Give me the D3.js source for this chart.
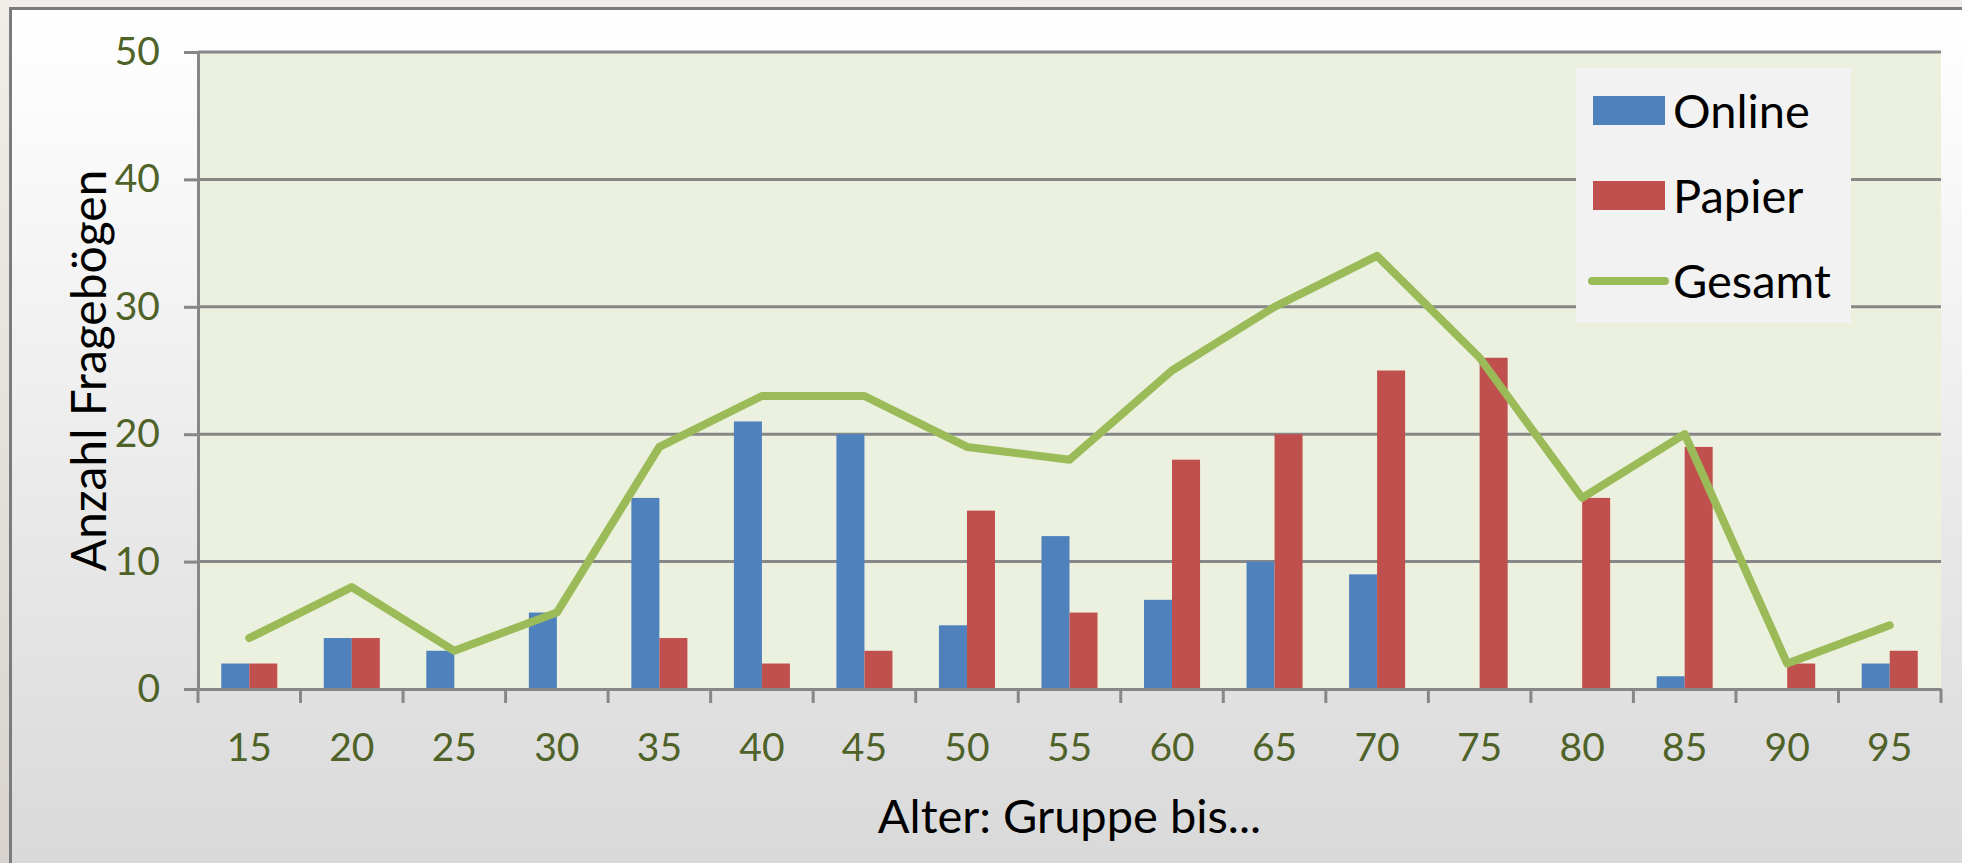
<!DOCTYPE html>
<html>
<head>
<meta charset="utf-8">
<script src="https://cdn.jsdelivr.net/npm/d3@7"></script>
<style>
  body { margin: 0; background: #efece8; }
  svg { display: block; font-family: Lato, "Noto Sans", sans-serif; }
</style>
</head>
<body>
<svg id="chart"></svg>
<script>
// age groups ("Gruppe bis ...")
var ages = ["15", "20", "25", "30", "35", "40", "45", "50", "55", "60", "65", "70", "75", "80", "85", "90", "95"];
var online = [2, 4, 3, 6, 15, 21, 20, 5, 12, 7, 10, 9, 0, 0, 1, 0, 2];
var papier = [2, 4, 0, 0, 4, 2, 3, 14, 6, 18, 20, 25, 26, 15, 19, 2, 3];
var gesamt = [4, 8, 3, 6, 19, 23, 23, 19, 18, 25, 30, 34, 26, 15, 20, 2, 5];
var yTicks = [0, 10, 20, 30, 40, 50];
var seriesNames = ["Online", "Papier", "Gesamt"];

var svgWidth = 1962;
var svgHeight = 863;

var plot = { left: 198, right: 1941, top: 52, bottom: 689 };

var svg = d3.select("#chart")
    .attr("width", svgWidth)
    .attr("height", svgHeight);

// background gradient of the chart frame
var defs = svg.append("defs");
var grad = defs.append("linearGradient")
    .attr("id", "frameGrad")
    .attr("x1", 0).attr("y1", 0).attr("x2", 0).attr("y2", 1);
grad.append("stop").attr("offset", "0%").attr("stop-color", "#ffffff");
grad.append("stop").attr("offset", "12%").attr("stop-color", "#fbfbfb");
grad.append("stop").attr("offset", "100%").attr("stop-color", "#d8d8d8");

var outer = defs.append("linearGradient")
    .attr("id", "outerGrad")
    .attr("x1", 0).attr("y1", 0).attr("x2", 0).attr("y2", 1);
outer.append("stop").attr("offset", "0%").attr("stop-color", "#f1eeea");
outer.append("stop").attr("offset", "100%").attr("stop-color", "#d8d3ce");

svg.append("rect")
    .attr("width", svgWidth)
    .attr("height", svgHeight)
    .attr("fill", "url(#outerGrad)");

svg.append("rect")
    .attr("x", 10.5)
    .attr("y", 8.5)
    .attr("width", svgWidth + 20)
    .attr("height", svgHeight + 20)
    .attr("fill", "url(#frameGrad)")
    .attr("stroke", "#7b7b7b")
    .attr("stroke-width", 3);

var x = d3.scaleBand()
    .domain(ages)
    .range([plot.left, plot.right])
    .paddingInner(0)
    .paddingOuter(0);

var xSub = d3.scaleBand()
    .domain(["Online", "Papier"])
    .range([0, x.bandwidth()])
    .paddingInner(0)
    .paddingOuter(0.83);

var y = d3.scaleLinear()
    .domain([0, 50])
    .range([plot.bottom, plot.top]);

var chartGroup = svg.append("g");

// plot area
chartGroup.append("rect")
    .attr("x", plot.left)
    .attr("y", plot.top)
    .attr("width", plot.right - plot.left)
    .attr("height", plot.bottom - plot.top)
    .attr("fill", "#ebf1de");

// gridlines
chartGroup.append("g")
    .selectAll("line")
    .data(yTicks.filter(d => d > 0))
    .enter()
    .append("line")
    .attr("x1", plot.left)
    .attr("x2", plot.right)
    .attr("y1", d => y(d))
    .attr("y2", d => y(d))
    .attr("stroke", "#878787")
    .attr("stroke-width", 3);

// bars
var rows = ages.map((a, i) => ({ age: a, Online: online[i], Papier: papier[i] }));
var colors = { Online: "#4f81bd", Papier: "#c0504d" };

chartGroup.append("g")
    .selectAll("g")
    .data(rows)
    .enter()
    .append("g")
    .attr("transform", d => `translate(${x(d.age)}, 0)`)
    .selectAll("rect")
    .data(d => ["Online", "Papier"].map(k => ({ key: k, value: d[k] })))
    .enter()
    .append("rect")
    .attr("x", d => xSub(d.key))
    .attr("width", xSub.bandwidth())
    .attr("y", d => y(d.value))
    .attr("height", d => y(0) - y(d.value))
    .attr("fill", d => colors[d.key]);

// y axis
var leftAxis = d3.axisLeft(y)
    .tickValues(yTicks)
    .tickSize(14)
    .tickPadding(24)
    .tickFormat(d3.format("d"));

var yAxisG = chartGroup.append("g")
    .attr("transform", `translate(${plot.left}, 0)`)
    .call(leftAxis);
yAxisG.select(".domain").attr("stroke", "#878787").attr("stroke-width", 3);
yAxisG.selectAll(".tick line").attr("stroke", "#878787").attr("stroke-width", 3);
yAxisG.selectAll(".tick text")
    .attr("fill", "#4f6228")
    .style("font-size", "39px")
    .style("font-family", "Lato, sans-serif");

// x axis: ticks sit between the groups
var bottomAxis = d3.axisBottom(x)
    .tickSize(0)
    .tickPadding(44);

var xAxisG = chartGroup.append("g")
    .attr("transform", `translate(0, ${plot.bottom})`)
    .call(bottomAxis);
xAxisG.select(".domain").attr("stroke", "#878787").attr("stroke-width", 3);
xAxisG.selectAll(".tick text")
    .attr("fill", "#4f6228")
    .style("font-size", "39px")
    .style("font-family", "Lato, sans-serif");

xAxisG.selectAll(".sep")
    .data(ages.concat(["end"]))
    .enter()
    .append("line")
    .attr("class", "sep")
    .attr("x1", (d, i) => i < ages.length ? x(d) : x(ages[ages.length - 1]) + x.bandwidth())
    .attr("x2", (d, i) => i < ages.length ? x(d) : x(ages[ages.length - 1]) + x.bandwidth())
    .attr("y1", 0)
    .attr("y2", 14)
    .attr("stroke", "#878787")
    .attr("stroke-width", 3);

// total line
var line = d3.line()
    .x((d, i) => x(ages[i]) + x.bandwidth() / 2)
    .y(d => y(d));

chartGroup.append("path")
    .datum(gesamt)
    .attr("d", line)
    .attr("fill", "none")
    .attr("stroke", "#9bbb59")
    .attr("stroke-width", 8)
    .attr("stroke-linejoin", "round")
    .attr("stroke-linecap", "round");

// axis titles
chartGroup.append("text")
    .attr("x", (plot.left + plot.right) / 2)
    .attr("y", 833)
    .attr("text-anchor", "middle")
    .attr("fill", "#000")
    .style("font-size", "47px")
    .text("Alter: Gruppe bis...");

chartGroup.append("text")
    .attr("transform", `translate(106, ${(plot.top + plot.bottom) / 2}) rotate(-90)`)
    .attr("text-anchor", "middle")
    .attr("fill", "#000")
    .style("font-size", "48px")
    .text("Anzahl Fragebögen");

// legend
var legend = svg.append("g");
legend.append("rect")
    .attr("x", 1576)
    .attr("y", 68)
    .attr("width", 275)
    .attr("height", 255)
    .attr("fill", "#f2f2f2");

var legendY = d3.scalePoint()
    .domain(seriesNames)
    .range([111, 281]);

var items = legend.selectAll(".item")
    .data(seriesNames)
    .enter()
    .append("g")
    .attr("class", "item")
    .attr("transform", d => `translate(0, ${legendY(d)})`);

items.filter(d => d !== "Gesamt")
    .append("rect")
    .attr("x", 1593)
    .attr("y", -15)
    .attr("width", 72)
    .attr("height", 29)
    .attr("fill", d => colors[d]);

items.filter(d => d === "Gesamt")
    .append("line")
    .attr("x1", 1592)
    .attr("x2", 1665)
    .attr("stroke", "#9bbb59")
    .attr("stroke-width", 8)
    .attr("stroke-linecap", "round");

items.append("text")
    .attr("x", 1673)
    .attr("y", 17)
    .attr("fill", "#000")
    .style("font-size", "47px")
    .text(d => d);
</script>
</body>
</html>
